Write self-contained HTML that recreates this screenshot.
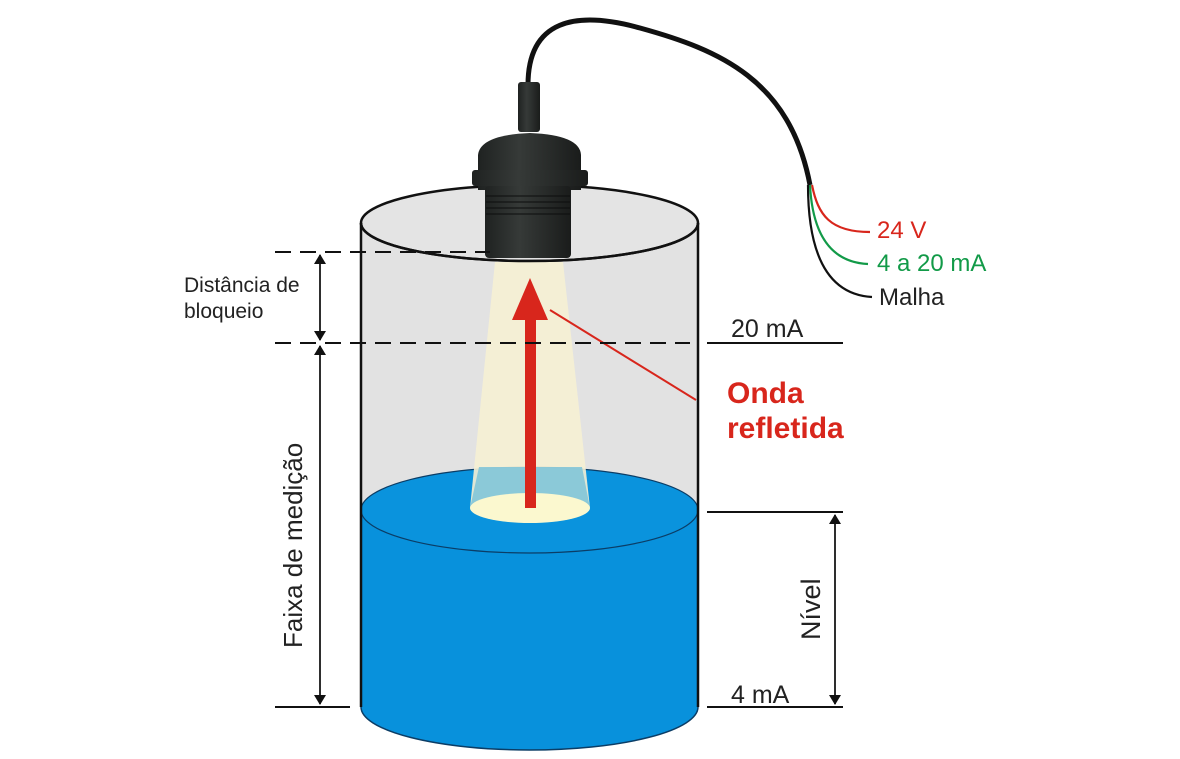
<!DOCTYPE html>
<html><head><style>body{margin:0;background:#fff}svg{display:block}</style></head><body>
<svg width="1180" height="759" viewBox="0 0 1180 759" xmlns="http://www.w3.org/2000/svg" font-family="Liberation Sans, Arial, sans-serif">
<defs>
<marker id="ah" markerWidth="10" markerHeight="12" refX="9" refY="6" orient="auto" markerUnits="userSpaceOnUse"><path d="M0,0 L10,6 L0,12 Z" fill="#111"/></marker>
<linearGradient id="blk" x1="0" x2="1"><stop offset="0" stop-color="#1f2221"/><stop offset="0.4" stop-color="#363a38"/><stop offset="1" stop-color="#1a1c1b"/></linearGradient>
</defs>
<rect x="361" y="223" width="337" height="484" fill="#e2e2e2"/>
<ellipse cx="529.5" cy="223" rx="168.5" ry="38" fill="#e4e4e4" stroke="#111" stroke-width="2.5"/>
<path d="M361,510 L361,707 A168.5,43 0 0 0 698,707 L698,510 Z" fill="#0891dc" stroke="#0b3d66" stroke-width="1.5"/>
<ellipse cx="529.5" cy="510" rx="168.5" ry="43" fill="#0a93dd" stroke="#0b3d66" stroke-width="1.2"/>
<line x1="361" y1="223" x2="361" y2="707" stroke="#111" stroke-width="2.5"/>
<line x1="698" y1="223" x2="698" y2="707" stroke="#111" stroke-width="2.5"/>
<path d="M495,262 L563,262 L590,508 L470,508 Z" fill="#f6f1d4" opacity="0.9"/>
<path d="M479,467 L582,467 L590,508 L470,508 Z" fill="#7cc3d8" opacity="0.85"/>
<ellipse cx="530" cy="508" rx="60" ry="15" fill="#fbf8cf"/>
<rect x="525" y="318" width="11" height="190" fill="#d8261c"/>
<path d="M512,320 L530,278 L548,320 Z" fill="#d8261c"/>
<line x1="550" y1="310" x2="696" y2="400" stroke="#d8261c" stroke-width="2"/>
<path d="M528,85 C528,20 575,10 640,28 C720,50 790,80 810,185" fill="none" stroke="#111" stroke-width="5"/>
<path d="M812,185 C818,215 830,232 870,232" fill="none" stroke="#d8261c" stroke-width="2.2"/>
<path d="M810,185 C812,225 825,262 868,264" fill="none" stroke="#129a48" stroke-width="2.2"/>
<path d="M808,185 C808,240 820,294 872,297" fill="none" stroke="#111" stroke-width="2.2"/>
<rect x="518" y="82" width="22" height="50" rx="3" fill="url(#blk)"/>
<path d="M478,190 L478,155 Q480,135 530,133 Q580,135 581,155 L581,190 Z" fill="url(#blk)"/>
<rect x="472" y="170" width="116" height="16" rx="3" fill="url(#blk)"/>
<rect x="485" y="186" width="86" height="72" rx="4" fill="url(#blk)"/>
<g stroke="#0c0d0d" stroke-width="1"><line x1="486" y1="196" x2="570" y2="196"/><line x1="486" y1="202" x2="570" y2="202"/><line x1="486" y1="208" x2="570" y2="208"/><line x1="486" y1="214" x2="570" y2="214"/></g>
<path d="M361,223 A168.5,38 0 0 0 698,223" fill="none" stroke="#111" stroke-width="2.5"/>
<line x1="275" y1="252" x2="490" y2="252" stroke="#111" stroke-width="2" stroke-dasharray="16,9"/>
<line x1="275" y1="343" x2="690" y2="343" stroke="#111" stroke-width="2" stroke-dasharray="16,9"/>
<line x1="707" y1="343" x2="843" y2="343" stroke="#111" stroke-width="2"/>
<line x1="707" y1="512" x2="843" y2="512" stroke="#111" stroke-width="2"/>
<line x1="275" y1="707" x2="350" y2="707" stroke="#111" stroke-width="2"/>
<line x1="707" y1="707" x2="843" y2="707" stroke="#111" stroke-width="2"/>
<line x1="320" y1="255" x2="320" y2="340" stroke="#111" stroke-width="1.5" marker-end="url(#ah)"/>
<line x1="320" y1="340" x2="320" y2="255" stroke="#111" stroke-width="1.5" marker-end="url(#ah)"/>
<line x1="320" y1="346" x2="320" y2="704" stroke="#111" stroke-width="1.5" marker-end="url(#ah)"/>
<line x1="320" y1="704" x2="320" y2="346" stroke="#111" stroke-width="1.5" marker-end="url(#ah)"/>
<line x1="835" y1="515" x2="835" y2="704" stroke="#111" stroke-width="1.5" marker-end="url(#ah)"/>
<line x1="835" y1="704" x2="835" y2="515" stroke="#111" stroke-width="1.5" marker-end="url(#ah)"/>
<text x="184" y="292" font-size="21" fill="#222">Distância de</text>
<text x="184" y="318" font-size="21" fill="#222">bloqueio</text>
<text transform="translate(302,648) rotate(-90)" font-size="26" fill="#222">Faixa de medição</text>
<text transform="translate(820,640) rotate(-90)" font-size="27" fill="#222">Nível</text>
<text x="731" y="337" font-size="25" fill="#222">20 mA</text>
<text x="731" y="703" font-size="25" fill="#222">4 mA</text>
<text x="727" y="403" font-size="30" font-weight="bold" fill="#d8261c">Onda</text>
<text x="727" y="438" font-size="30" font-weight="bold" fill="#d8261c">refletida</text>
<text x="877" y="238" font-size="24" fill="#d8261c">24 V</text>
<text x="877" y="271" font-size="24" fill="#129a48">4 a 20 mA</text>
<text x="879" y="305" font-size="24" fill="#222">Malha</text>
</svg>
</body></html>
